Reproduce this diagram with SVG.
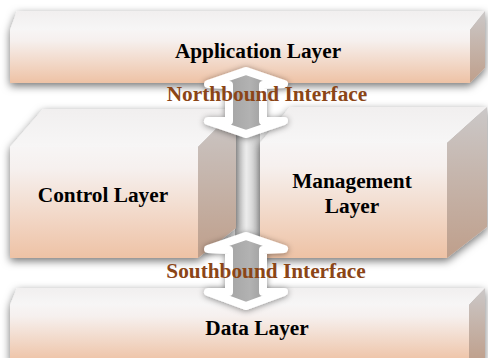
<svg xmlns="http://www.w3.org/2000/svg" width="488" height="358" viewBox="0 0 488 358">
<defs>
<linearGradient id="front" x1="0" y1="0" x2="0" y2="1">
<stop offset="0" stop-color="#f7f5f5"/>
<stop offset="0.2" stop-color="#f6f0ee"/>
<stop offset="1" stop-color="#eec2a5"/>
</linearGradient>
<linearGradient id="side" x1="0" y1="0" x2="0" y2="1">
<stop offset="0" stop-color="#cbc8c8"/>
<stop offset="1" stop-color="#bf9f8b"/>
</linearGradient>
<linearGradient id="top" x1="0" y1="0" x2="0" y2="1">
<stop offset="0" stop-color="#f1efef"/>
<stop offset="1" stop-color="#f7f6f6"/>
</linearGradient>
<linearGradient id="arrowfill" x1="0" y1="0" x2="1" y2="0">
<stop offset="0" stop-color="#7f7f7f"/>
<stop offset="0.3" stop-color="#a6a6a6"/>
<stop offset="0.55" stop-color="#b2b2b2"/>
<stop offset="1" stop-color="#858585"/>
</linearGradient>
<linearGradient id="column" x1="0" y1="0" x2="1" y2="0">
<stop offset="0" stop-color="#b9b9b9"/>
<stop offset="0.45" stop-color="#ececec"/>
<stop offset="1" stop-color="#c2c2c2"/>
</linearGradient>
<filter id="shadow" x="-10%" y="-30%" width="125%" height="170%">
<feDropShadow dx="0" dy="3" stdDeviation="4" flood-color="#000" flood-opacity="0.55"/>
</filter>
<filter id="glow" x="-40%" y="-30%" width="180%" height="160%">
<feDropShadow dx="0" dy="1" stdDeviation="3" flood-color="#000" flood-opacity="0.45"/>
</filter>
</defs>
<style>
.front{fill:url(#front)}
.side{fill:url(#side)}
.topf{fill:url(#top)}
.lbl{font-family:"Liberation Serif","Times New Roman",serif;font-weight:bold;font-size:21.3px;fill:#000;text-anchor:middle}
.ifc{font-family:"Liberation Serif","Times New Roman",serif;font-weight:bold;font-size:21.3px;fill:#8b4516;text-anchor:middle}
.arrow{fill:url(#arrowfill);stroke:#fff;stroke-width:8;stroke-linejoin:round}
</style>
<rect width="488" height="358" fill="#fff"/>

<rect x="235" y="132" width="25" height="108" fill="url(#column)"/>

<g id="app-layer">
<g filter="url(#shadow)">
<polygon class="topf" points="10,30 17,11 485,11 470,30"/>
<polygon class="side" points="470,30 485,11 485,68 470,83"/>
<rect class="front" x="10" y="30" width="460" height="53"/>
</g>
<text class="lbl" x="258" y="58">Application Layer</text>
</g>

<g id="control-layer">
<g filter="url(#shadow)">
<polygon class="topf" points="10,147 43,109 236,109 198,147"/>
<polygon class="side" points="198,147 236,109 236,228 198,258"/>
<rect class="front" x="10" y="147" width="188" height="111"/>
</g>
<text class="lbl" x="103" y="202">Control Layer</text>
</g>

<g id="management-layer">
<g filter="url(#shadow)">
<polygon class="topf" points="260,143 290,107 487,107 447,143"/>
<polygon class="side" points="447,143 487,107 487,227 447,258"/>
<rect class="front" x="260" y="143" width="187" height="115"/>
</g>
<text class="lbl" x="352" y="188">Management</text>
<text class="lbl" x="352" y="213">Layer</text>
</g>

<g id="data-layer">
<g filter="url(#shadow)">
<polygon class="topf" points="10,305 17,288 485,288 469,305"/>
<polygon class="side" points="469,305 485,288 485,362 469,362"/>
<rect class="front" x="10" y="305" width="459" height="57"/>
</g>
<text class="lbl" x="257" y="335">Data Layer</text>
</g>

<g id="connectors">
<g filter="url(#glow)">
<polygon class="arrow" points="246,71 284,84 263,85 263,121 284,121 246,134 208,121 229,121 229,85 208,84"/>
</g>
<g filter="url(#glow)">
<polygon class="arrow" points="246,236 284,249 263,250 263,292 284,292 246,306 208,292 229,292 229,250 208,249"/>
</g>
<text class="ifc" x="267" y="101">Northbound Interface</text>
<text class="ifc" x="266" y="278">Southbound Interface</text>
</g>
</svg>
